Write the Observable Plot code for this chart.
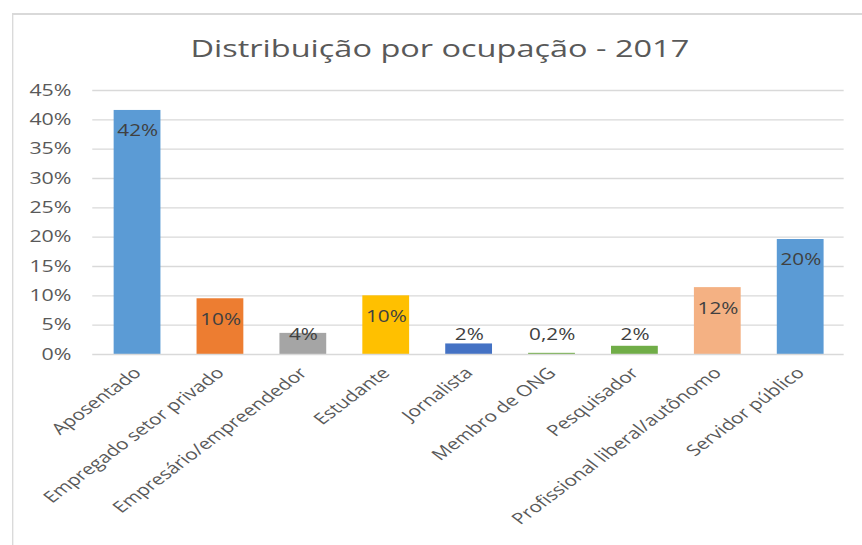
<!DOCTYPE html>
<html><head><meta charset="utf-8">
<script src="https://cdn.jsdelivr.net/npm/d3@7"></script>
<script src="https://cdn.jsdelivr.net/npm/@observablehq/plot@0.6"></script>
<style>
html,body{margin:0;padding:0;background:#fff;overflow:hidden;}
#stage{position:relative;width:645px;height:545px;transform:scaleX(1.337);transform-origin:0 0;font-family:"Open Sans",sans-serif;}
#frame{position:absolute;left:8.5px;top:13px;width:700px;height:600px;border-left:1.6px solid #d9d9d9;border-top:2px solid #d9d9d9;}
#title{position:absolute;left:0;width:658px;top:30.5px;text-align:center;font-size:24.3px;line-height:normal;color:#595959;}
#chart{position:absolute;left:0;top:0;}
</style></head>
<body>
<div id="stage"><div id="frame"></div><div id="title">Distribuição por ocupação - 2017</div><div id="chart"></div></div>
<script>
const categories = ["Aposentado","Empregado setor privado","Empresário/empreendedor","Estudante","Jornalista","Membro de ONG","Pesquisador","Profissional liberal/autônomo","Servidor público"];
const values = [41.6, 9.5, 3.6, 10.0, 1.8, 0.2, 1.4, 11.4, 19.6];
const valueLabels = ["42%","10%","4%","10%","2%","0,2%","2%","12%","20%"];
const barColors = ["#5b9bd5","#ed7d31","#a5a5a5","#ffc000","#4472c4","#70ad47","#70ad47","#f4b183","#5b9bd5"];
const yTicks = [0,5,10,15,20,25,30,35,40,45];

const data = categories.map((c,i)=>({cat:c, v:values[i], label:valueLabels[i], color:barColors[i]}));

const plot = Plot.plot({
  width: 645, height: 545,
  marginLeft: 69, marginRight: 14, marginTop: 90, marginBottom: 191,
  style: {fontFamily:"'Open Sans', sans-serif", fontSize:"15px", color:"#595959", background:"transparent", overflow:"visible"},
  x: {domain: categories, paddingInner: 0.437, paddingOuter: 0.2185, label: null},
  y: {domain: [0,45], label: null},
  color: {type: "identity"},
  marks: [
    Plot.ruleY(yTicks.filter(t=>t>0), {stroke:"#d9d9d9", strokeWidth:1.4}),
    Plot.barY(data, {x:"cat", y:"v", fill:"color"}),
    Plot.ruleY([0], {stroke:"#d9d9d9", strokeWidth:1.4}),
    Plot.axisY(yTicks, {tickSize:0, tickPadding:16, tickFormat:d=>d+"%", fontSize:16, fill:"#595959", label:null}),
    Plot.axisX({tickSize:0, tickRotate:-45, tickPadding:16, fontSize:15.5, fill:"#595959", label:null}),
    Plot.text(data.filter(d=>d.v>=5), {x:"cat", y:"v", text:"label", dy:21, fill:"#404040", fontSize:15.5}),
    Plot.text(data.filter(d=>d.v<5), {x:"cat", y:d=>0, text:"label", dy:-19, fill:"#404040", fontSize:15.5})
  ]
});
document.getElementById("chart").appendChild(plot);
</script>
</body></html>
